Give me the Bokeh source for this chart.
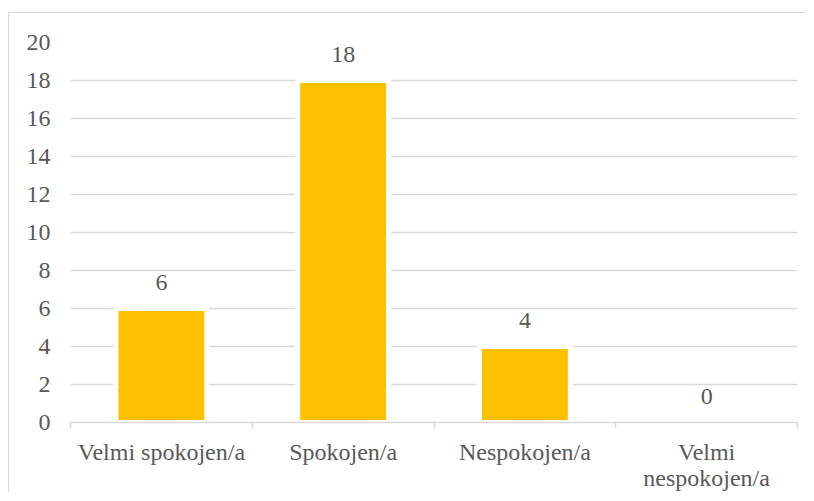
from bokeh.plotting import figure
from bokeh.models import FixedTicker, ColumnDataSource
from bokeh.core.properties import value
from bokeh.embed import file_html
from bokeh.resources import INLINE

categories = ["Velmi spokojen/a", "Spokojen/a", "Nespokojen/a", "Velmi\nnespokojen/a"]
counts = [6, 18, 4, 0]
y_ticks = [0, 2, 4, 6, 8, 10, 12, 14, 16, 18, 20]

FONT = "Liberation Serif"
TXT = "#595959"
GRID = "#d9d9d9"
FS = "24px"

xs = [i + 0.5 for i in range(len(categories))]
src = ColumnDataSource(dict(x=xs, top=counts, label=[str(c) for c in counts]))

p = figure(width=797, height=480, output_backend="svg", toolbar_location=None,
           x_range=(0, len(categories)), y_range=(y_ticks[0], y_ticks[-1]),
           min_border_left=61, min_border_right=9, min_border_top=29, min_border_bottom=71)
p.styles = {"border-top": "1px solid #d9d9d9", "border-left": "1px solid #d9d9d9",
            "margin-top": "12px", "margin-left": "8px"}
p.outline_line_color = None
p.background_fill_color = "white"
p.border_fill_color = "white"

p.vbar(x="x", top="top", bottom=0, width=0.5, source=src,
       fill_color="#FFC000", line_color="white", line_width=5)
p.text(x="x", y="top", text="label", source=src, text_align="center",
       text_baseline="alphabetic", y_offset=-26, text_font=value(FONT),
       text_font_size=FS, text_color=TXT)

p.xgrid.visible = False
p.ygrid.grid_line_color = GRID
p.ygrid.grid_line_width = 1.5
p.ygrid.ticker = FixedTicker(ticks=y_ticks)

xa = p.xaxis[0]
xa.ticker = FixedTicker(ticks=xs, minor_ticks=list(range(len(categories) + 1)))
xa.major_label_overrides = {x: c for x, c in zip(xs, categories)}
xa.major_tick_out = 0
xa.major_tick_in = 0
xa.minor_tick_out = 6
xa.minor_tick_in = 0
xa.minor_tick_line_color = GRID
xa.minor_tick_line_width = 1.5
xa.axis_line_color = GRID
xa.axis_line_width = 1.5
xa.major_label_standoff = 10
xa.major_label_text_font = FONT
xa.major_label_text_font_size = FS
xa.major_label_text_line_height = 1.0
xa.major_label_text_color = TXT

ya = p.yaxis[0]
ya.ticker = FixedTicker(ticks=y_ticks)
ya.axis_line_color = None
ya.major_tick_out = 0
ya.major_tick_in = 0
ya.minor_tick_out = 0
ya.minor_tick_in = 0
ya.major_label_standoff = 20
ya.major_label_text_font = FONT
ya.major_label_text_font_size = FS
ya.major_label_text_color = TXT

open("out.html", "w").write(file_html(p, INLINE))
